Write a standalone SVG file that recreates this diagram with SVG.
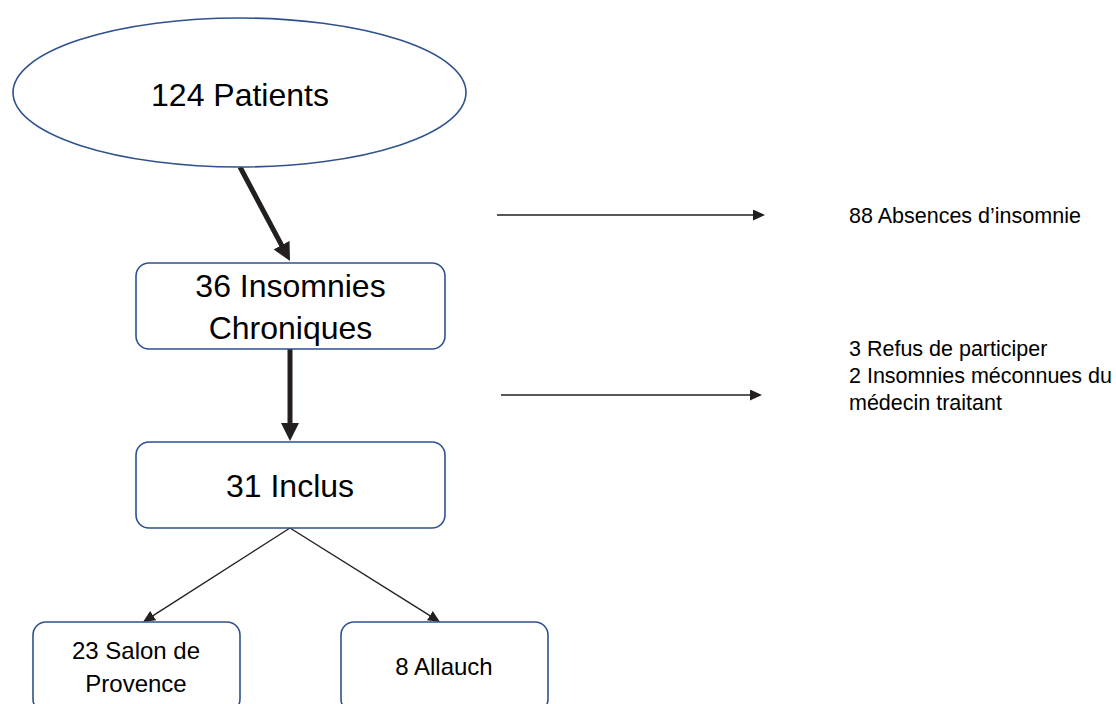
<svg xmlns="http://www.w3.org/2000/svg" width="1116" height="704" viewBox="0 0 1116 704">
  <style>
    .node { fill: #ffffff; stroke: #2F528F; stroke-width: 1.6; }
    .label { font-family: "Liberation Sans", Arial, sans-serif; fill: #000000; text-anchor: middle; }
    .big { font-size: 32px; }
    .mid { font-size: 24px; }
    .side { font-family: "Liberation Sans", Arial, sans-serif; fill: #000000; font-size: 21.5px; }
    .thick { stroke: #231F20; stroke-width: 5; fill: none; }
    .thin { stroke: #231F20; stroke-width: 1.4; fill: none; }
  </style>
  <defs>
    <marker id="headThick" markerUnits="userSpaceOnUse" markerWidth="18" markerHeight="18" refX="2" refY="9" orient="auto">
      <path d="M0,0 L18,9 L0,18 z" fill="#231F20"/>
    </marker>
    <marker id="headThin" markerUnits="userSpaceOnUse" markerWidth="12" markerHeight="11" refX="1" refY="5.5" orient="auto">
      <path d="M0,0 L12,5.5 L0,11 z" fill="#231F20"/>
    </marker>
  </defs>
  <rect width="1116" height="704" fill="#ffffff"/>

  <g id="connectors">
    <line class="thick" x1="240" y1="167" x2="282.5" y2="246.9" marker-end="url(#headThick)"/>
    <line class="thick" x1="290" y1="349" x2="290" y2="425" marker-end="url(#headThick)"/>
    <line class="thin" x1="497" y1="215" x2="754" y2="215" marker-end="url(#headThin)"/>
    <line class="thin" x1="501" y1="395" x2="751" y2="395" marker-end="url(#headThin)"/>
    <line class="thin" x1="290" y1="528" x2="152.3" y2="616.1" marker-end="url(#headThin)"/>
    <line class="thin" x1="290" y1="528" x2="430.7" y2="616.2" marker-end="url(#headThin)"/>
  </g>

  <g id="patients">
    <ellipse class="node" cx="239.5" cy="92.5" rx="226.5" ry="74.5"/>
    <text class="label big" x="240" y="106">124 Patients</text>
  </g>

  <g id="insomnies">
    <rect class="node" x="136" y="263" width="309" height="86" rx="13"/>
    <text class="label big" x="290.5" y="297">36 Insomnies</text>
    <text class="label big" x="290.5" y="339">Chroniques</text>
  </g>

  <g id="inclus">
    <rect class="node" x="136" y="442" width="309" height="86" rx="13"/>
    <text class="label big" x="290" y="497">31 Inclus</text>
  </g>

  <g id="salon">
    <rect class="node" x="33" y="622" width="207" height="90" rx="13"/>
    <text class="label mid" x="136" y="659">23 Salon de</text>
    <text class="label mid" x="136" y="692">Provence</text>
  </g>

  <g id="allauch">
    <rect class="node" x="341" y="622" width="207" height="90" rx="13"/>
    <text class="label mid" x="444" y="675">8 Allauch</text>
  </g>

  <g id="absences">
    <text class="side" x="849" y="223">88 Absences d’insomnie</text>
  </g>

  <g id="exclusions">
    <text class="side" x="849" y="356">3 Refus de participer</text>
    <text class="side" x="849" y="383">2 Insomnies méconnues du</text>
    <text class="side" x="849" y="410">médecin traitant</text>
  </g>
</svg>
